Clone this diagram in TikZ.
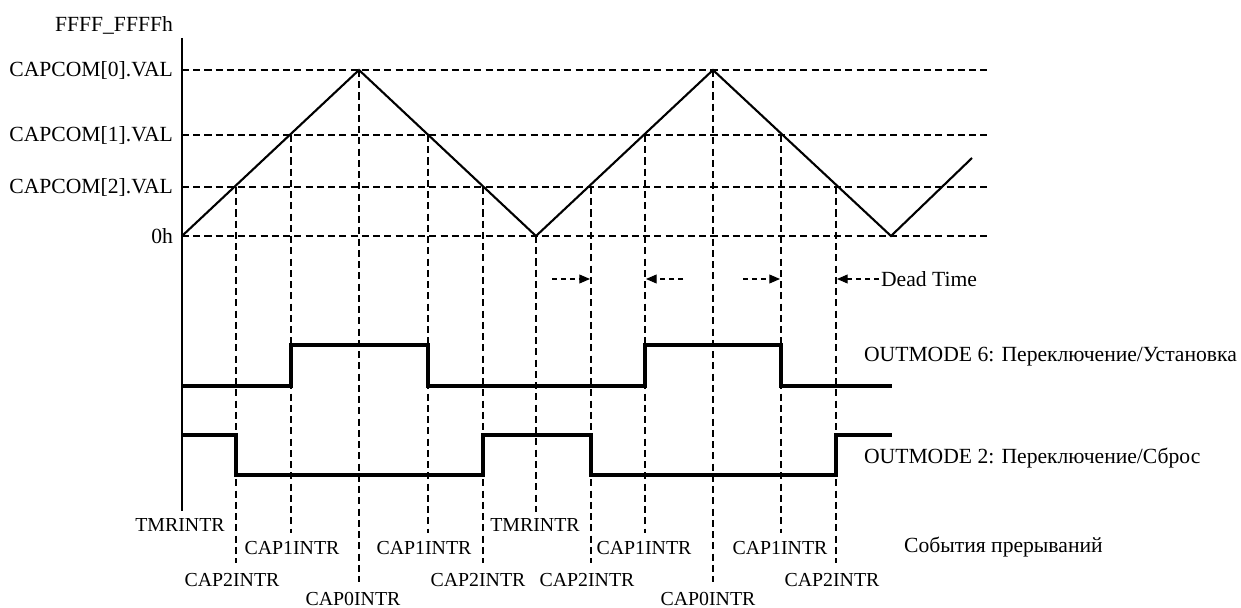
\documentclass[tikz,border=0pt]{standalone}
\usepackage{fontspec}
\setmainfont{Liberation Serif}
\usetikzlibrary{arrows.meta}

\begin{document}
\begin{tikzpicture}[x=0.02cm, y=-0.02cm,
            every node/.style={
            inner sep=0.1em, font=\fontsize{12.3}{14}\selectfont}
        ]
        \tikzstyle {grid_line} = [line width=0.6pt, dash pattern=on 4pt off 2.4pt]
        \tikzstyle {ramp_line} = [line width=1.2pt, line join=miter]
        \tikzstyle {out_line} = [line width=1.9pt, line join=miter]
        \tikzstyle {dead_arrow} = [line width=0.6pt, dash pattern=on 2.8pt off 2.3pt, -{Stealth[length=6pt, width=5pt, inset=0pt]}]
        \tikzstyle {lvl_label} = [anchor=east]
        \tikzstyle {mode_label} = [anchor=west]
        \tikzstyle {intr_label} = [inner sep=0pt, font=\fontsize{11.3}{13}\selectfont]

        \useasboundingbox (0,0) rectangle (1241,608);

        \node [lvl_label] (top) at (175,25) {FFFF\_FFFFh};
        \node [lvl_label] (cap0) at (175,70) {CAPCOM[0].VAL};
        \node [lvl_label] (cap1) at (175,135) {CAPCOM[1].VAL};
        \node [lvl_label] (cap2) at (175,187) {CAPCOM[2].VAL};
        \node [lvl_label] (zero) at (175,236) {0h};

        \draw [line width=0.6pt] (182,38) -- (182,511);

        \draw [grid_line] (182,70) -- (987,70);
        \draw [grid_line] (182,135) -- (987,135);
        \draw [grid_line] (182,187) -- (987,187);
        \draw [grid_line] (182,236) -- (987,236);

        \draw [grid_line] (236,187) -- (236,563);
        \draw [grid_line] (291,135) -- (291,533);
        \draw [grid_line] (359,70) -- (359,582);
        \draw [grid_line] (428,135) -- (428,533);
        \draw [grid_line] (483,187) -- (483,563);
        \draw [grid_line] (536,236) -- (536,512);
        \draw [grid_line] (591,187) -- (591,563);
        \draw [grid_line] (645,135) -- (645,533);
        \draw [grid_line] (713,70) -- (713,582);
        \draw [grid_line] (781,135) -- (781,533);
        \draw [grid_line] (836,187) -- (836,563);

        \draw [ramp_line] (182,236) -- (359,70) -- (536,236) -- (713,70) -- (891,236) -- (972,158);

        \draw [out_line] (182,386) -- (291,386) -- (291,345) -- (428,345) -- (428,386)
            -- (645,386) -- (645,345) -- (781,345) -- (781,386) -- (892,386);
        \draw [out_line] (182,435) -- (236,435) -- (236,475) -- (483,475) -- (483,435)
            -- (591,435) -- (591,475) -- (836,475) -- (836,435) -- (892,435);

        \node [mode_label] (dt) at (879,279) {Dead Time};
        \coordinate (dt1a) at (552,279);
        \coordinate (dt1b) at (590,279);
        \coordinate (dt2a) at (683,279);
        \coordinate (dt2b) at (646,279);
        \coordinate (dt3a) at (743,279);
        \coordinate (dt3b) at (780,279);
        \coordinate (dt4b) at (837,279);
        \draw [dead_arrow] (dt1a) -- (dt1b);
        \draw [dead_arrow] (dt2a) -- (dt2b);
        \draw [dead_arrow] (dt3a) -- (dt3b);
        \draw [dead_arrow] (dt.west) -- (dt4b);

        \node [mode_label] (out6) at (862,357) {OUTMODE 6: Переключение/Установка};
        \node [mode_label] (out2) at (862,458) {OUTMODE 2: Переключение/Сброс};
        \node [mode_label] (events) at (902,547) {События прерываний};

        \node [intr_label] (tmr1) at (180,525) {TMRINTR};
        \node [intr_label] (c2i1) at (232,580) {CAP2INTR};
        \node [intr_label] (c1i1) at (292,548) {CAP1INTR};
        \node [intr_label] (c0i1) at (353,599) {CAP0INTR};
        \node [intr_label] (c1i2) at (424,548) {CAP1INTR};
        \node [intr_label] (c2i2) at (478,580) {CAP2INTR};
        \node [intr_label] (tmr2) at (535,525) {TMRINTR};
        \node [intr_label] (c2i3) at (587,580) {CAP2INTR};
        \node [intr_label] (c1i3) at (644,548) {CAP1INTR};
        \node [intr_label] (c0i2) at (708,599) {CAP0INTR};
        \node [intr_label] (c1i4) at (780,548) {CAP1INTR};
        \node [intr_label] (c2i4) at (832,580) {CAP2INTR};

\end{tikzpicture}
\end{document}
